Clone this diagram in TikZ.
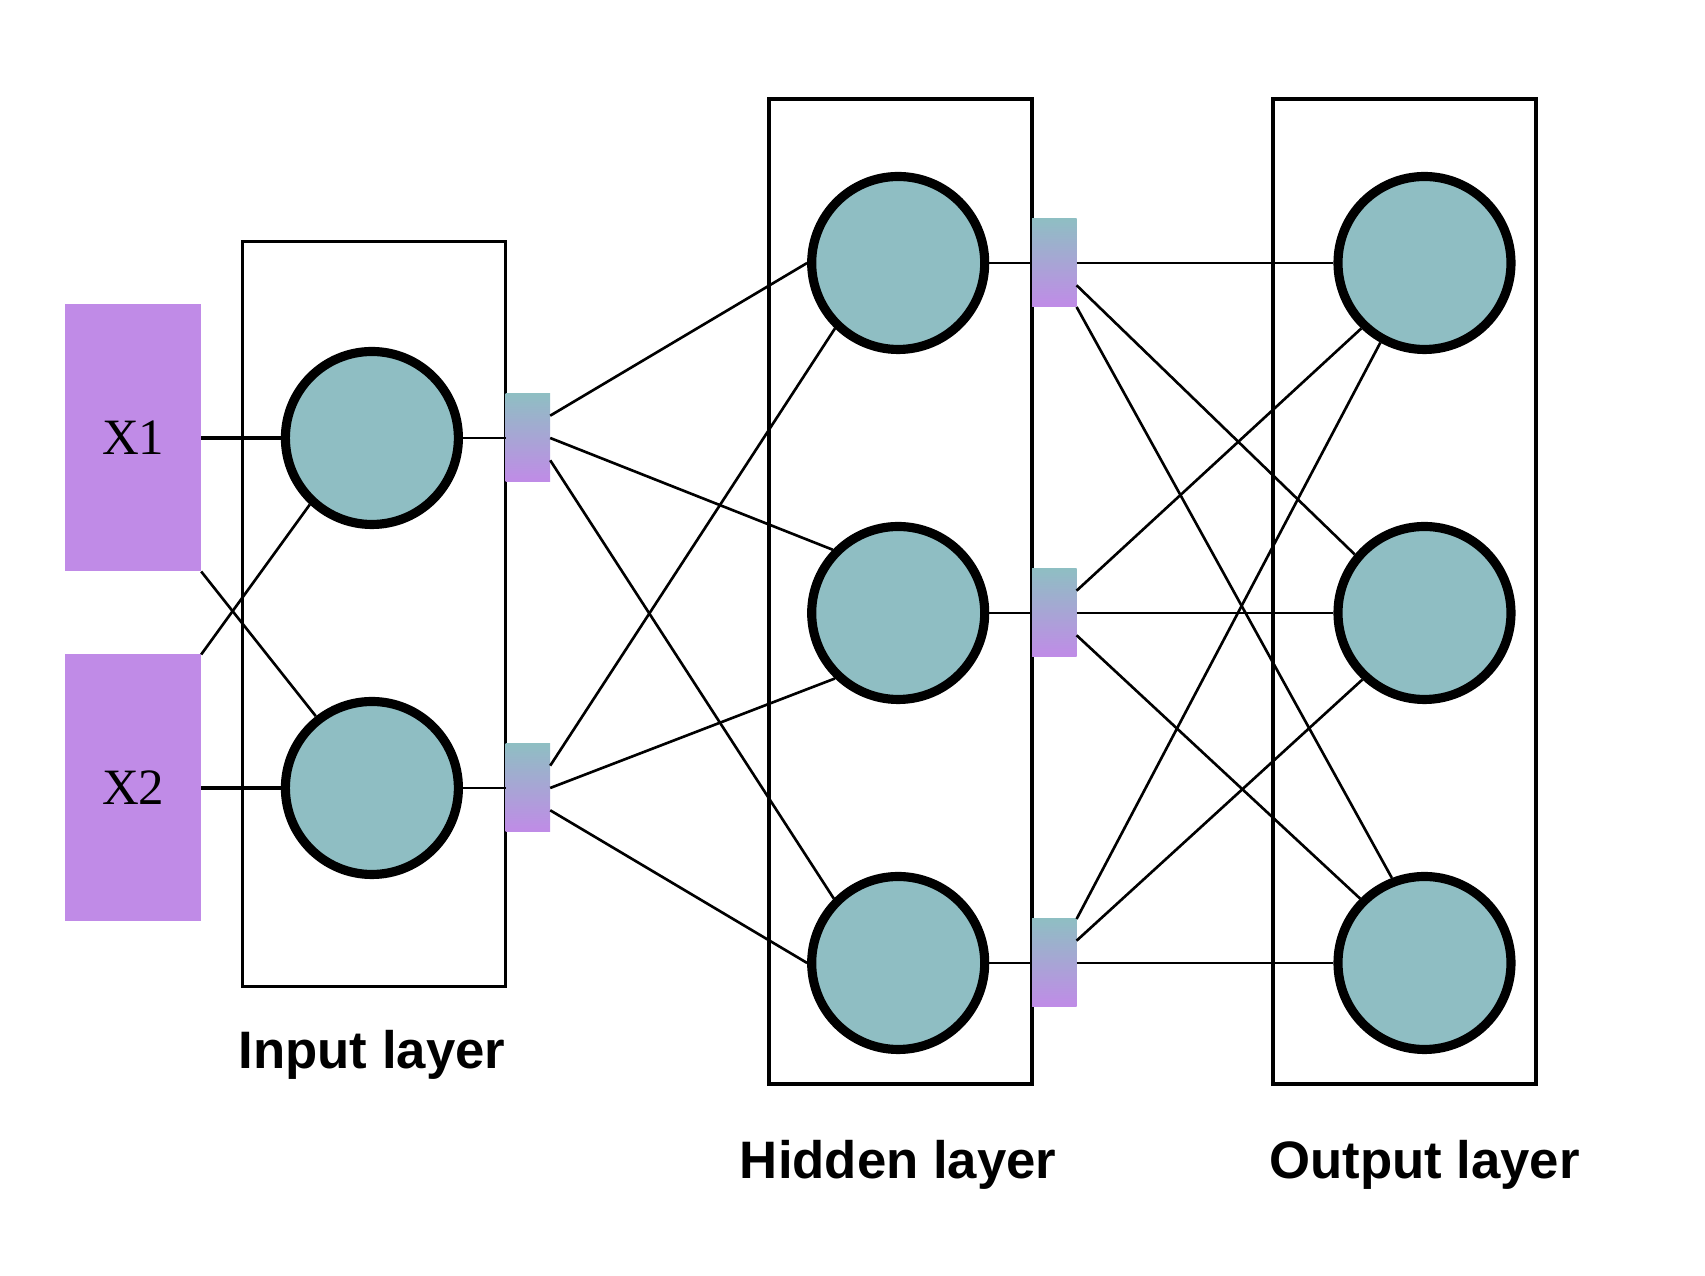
\documentclass[tikz,border=0pt]{standalone}
\usepackage{fontspec}
\setmainfont{Liberation Serif}
\newfontfamily\labelfont{Liberation Sans}
\usetikzlibrary{positioning}
\definecolor{neuronteal}{HTML}{8FBEC3}
\definecolor{inputpurple}{HTML}{C08BE7}

\begin{document}
\begin{tikzpicture}[
  x=1cm, y=1cm,
  neuron/.style={circle, draw=black, line width=2.6pt, fill=neuronteal, minimum size=1.73cm, inner sep=0pt},
  inputbox/.style={rectangle, fill=inputpurple, minimum width=1.36cm, minimum height=2.67cm, inner sep=0pt, outer sep=0pt, font=\fontsize{14.5}{17}\selectfont},
  gatebox/.style={rectangle, top color=neuronteal, bottom color=inputpurple, minimum width=0.446cm, minimum height=0.88cm, inner sep=0pt, outer sep=0pt},
  layerbox/.style={rectangle, draw=black, line width=1.1pt, minimum width=2.63cm, inner sep=0pt},
  layerlabel/.style={font=\labelfont\bfseries\fontsize{15}{18}\selectfont, anchor=base},
  link/.style={draw, line width=0.75pt},
  feed/.style={draw, line width=1pt}
]
  \useasboundingbox (0, 0) rectangle (17.05, 12.76);

  % ==================== LAYER BOXES ====================
  \node[layerbox, minimum height=7.45cm] (in_box) at (3.74, 6.62) {};
  \node[layerbox, minimum height=9.85cm] (hid_box) at (9.004, 6.845) {};
  \node[layerbox, minimum height=9.85cm] (out_box) at (14.049, 6.845) {};

  \node[layerlabel] (in_lbl) at (3.719, 2.071) {Input layer};
  \node[layerlabel] (hid_lbl) at (8.982, 0.973) {Hidden layer};
  \node[layerlabel] (out_lbl) at (14.245, 0.973) {Output layer};

  % ==================== INPUTS ====================
  \node[inputbox] (x1) at (1.332, 8.38) {X1};
  \node[inputbox] (x2) at (1.332, 4.88) {X2};

  % Input layer
  \node[neuron] (in_n1) at (3.719, 8.38) {};
  \node[neuron] (in_n2) at (3.719, 4.88) {};
  \node[gatebox] (in_g1) at (5.279, 8.38) {};
  \node[gatebox] (in_g2) at (5.279, 4.88) {};

  % Hidden layer
  \node[neuron] (hid_n1) at (8.982, 10.13) {};
  \node[neuron] (hid_n2) at (8.982, 6.63) {};
  \node[neuron] (hid_n3) at (8.982, 3.13) {};
  \node[gatebox] (hid_g1) at (10.543, 10.13) {};
  \node[gatebox] (hid_g2) at (10.543, 6.63) {};
  \node[gatebox] (hid_g3) at (10.543, 3.13) {};

  % Output layer
  \node[neuron] (out_n1) at (14.245, 10.13) {};
  \node[neuron] (out_n2) at (14.245, 6.63) {};
  \node[neuron] (out_n3) at (14.245, 3.13) {};

  % ==================== CONNECTIONS ====================
  % inputs -> input layer
  \draw[feed] (x1.east) -- (in_n1.west);
  \draw[feed] (x2.east) -- (in_n2.west);
  \draw[link] (x1.south east) -- (in_n2.128);
  \draw[link] (x2.north east) -- (in_n1.227);

  \draw[link] (in_n1.east) -- (in_g1.west);
  \draw[link] (in_n2.east) -- (in_g2.west);

  % input layer -> hidden layer
  \draw[link] (in_g1.45) -- (hid_n1.west);
  \draw[link] (in_g1.east) -- (hid_n2.136);
  \draw[link] (in_g1.-45) -- (hid_n3.135);
  \draw[link] (in_g2.45) -- (hid_n1.226);
  \draw[link] (in_g2.east) -- (hid_n2.226);
  \draw[link] (in_g2.-45) -- (hid_n3.west);

  \draw[link] (hid_n1.east) -- (hid_g1.west);
  \draw[link] (hid_n2.east) -- (hid_g2.west);
  \draw[link] (hid_n3.east) -- (hid_g3.west);

  % hidden layer -> output layer
  \draw[link] (hid_g1.east) -- (out_n1.west);
  \draw[link] (hid_g1.-45) -- (out_n2.140);
  \draw[link] (hid_g1.south east) -- (out_n3.111);
  \draw[link] (hid_g2.45) -- (out_n1.226);
  \draw[link] (hid_g2.east) -- (out_n2.west);
  \draw[link] (hid_g2.-45) -- (out_n3.135);
  \draw[link] (hid_g3.north east) -- (out_n1.241);
  \draw[link] (hid_g3.45) -- (out_n2.227);
  \draw[link] (hid_g3.east) -- (out_n3.west);

\end{tikzpicture}
\end{document}
